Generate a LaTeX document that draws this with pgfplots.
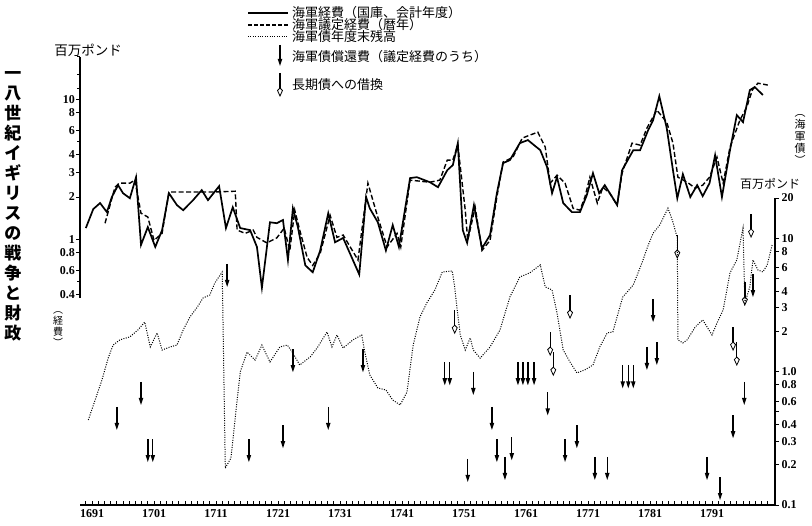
\documentclass[border=0pt]{standalone}
\usepackage{fontspec}
\setmainfont{Liberation Serif}
\newfontfamily\jp{Noto Sans CJK JP}
\usepackage{pgfplots}
\pgfplotsset{compat=1.18}
\usetikzlibrary{arrows.meta}

\pgfdeclareplotmark{sarr}{%
  \pgfsetlinewidth{1.4pt}%
  \pgfpathmoveto{\pgfpoint{0pt}{23pt}}\pgfpathlineto{\pgfpoint{0pt}{5pt}}\pgfusepathqstroke
  \pgfpathmoveto{\pgfpoint{0pt}{0pt}}\pgfpathlineto{\pgfpoint{-2.3pt}{7pt}}\pgfpathlineto{\pgfpoint{2.3pt}{7pt}}\pgfpathclose\pgfusepathqfill}
\pgfdeclareplotmark{harr}{%
  \pgfsetlinewidth{1.3pt}%
  \pgfpathmoveto{\pgfpoint{0pt}{23pt}}\pgfpathlineto{\pgfpoint{0pt}{8pt}}\pgfusepathqstroke
  \pgfsetlinewidth{0.8pt}%
  \pgfpathmoveto{\pgfpoint{0pt}{0pt}}\pgfpathlineto{\pgfpoint{-2.5pt}{5.5pt}}\pgfpathlineto{\pgfpoint{0pt}{8pt}}\pgfpathlineto{\pgfpoint{2.5pt}{5.5pt}}\pgfpathclose\pgfusepathqstroke}

\begin{document}
\begin{tikzpicture}[x=1pt,y=1pt]
\useasboundingbox (0,0) rectangle (812,526);

% ---------- top panel: expenditure ----------
\begin{axis}[
  at={(80pt,228pt)}, anchor=south west, width=695pt, height=241pt, scale only axis,
  xmin=1689.06, xmax=1801.16,
  ymode=log, ymin=0.38, ymax=20,
  axis x line=none, axis y line*=left,
  axis line style={line width=2pt},
  ytick={0.4,0.6,0.8,1,2,3,4,6,8,10},
  yticklabels={0.4,0.6,0.8,1,2,3,4,6,8,10},
  minor ytick={0.5,5,12,15,20},
  tick align=outside,
  major tick length=4pt, minor tick length=3pt,
  every tick/.style={line width=1pt,black},
  yticklabel style={font=\bfseries\fontsize{12}{12}\selectfont, inner sep=1pt},
  /pgf/number format/assume math mode=true,
  clip=false,
]
\addplot[black, line width=1.7pt] coordinates {
(1690.0,1.20) (1691.2,1.64) (1692.3,1.81) (1693.4,1.56) (1694.2,2.00) (1695.2,2.43) (1696.0,2.13) (1697.1,1.96) (1698.1,2.77) (1698.9,0.91) (1700.0,1.22) (1701.2,0.88) (1702.3,1.16) (1703.4,2.13) (1704.7,1.75) (1705.7,1.61) (1707.3,1.90) (1708.7,2.24) (1709.7,1.90) (1711.5,2.39) (1712.6,1.20) (1713.7,1.69) (1714.9,1.20) (1716.5,1.16) (1717.6,0.88) (1718.4,0.45) (1719.7,1.32) (1720.8,1.30) (1721.8,1.37) (1722.6,0.71) (1723.4,1.66) (1724.2,1.22) (1725.4,0.65) (1726.6,0.58) (1727.8,0.83) (1729.1,1.53) (1730.2,0.95) (1731.5,1.02) (1734.1,0.56) (1735.2,2.00) (1735.8,1.66) (1737.1,1.32) (1738.4,0.83) (1739.5,1.26) (1740.5,0.88) (1742.3,2.73) (1743.4,2.77) (1745.5,2.55) (1746.8,2.35) (1748.3,3.11) (1749.2,3.38) (1750.0,4.85) (1750.8,1.16) (1751.5,0.94) (1752.6,1.75) (1753.9,0.86) (1755.2,1.07) (1756.3,2.13) (1757.3,3.49) (1758.4,3.67) (1760.0,4.85) (1761.3,5.10) (1763.3,4.32) (1764.4,3.27) (1765.2,2.13) (1766.0,2.77) (1767.0,1.81) (1768.4,1.56) (1769.7,1.56) (1770.8,2.06) (1771.8,2.96) (1772.8,2.13) (1773.7,2.43) (1774.9,2.00) (1775.7,1.75) (1776.5,3.11) (1778.3,4.32) (1779.4,4.32) (1780.7,6.00) (1781.5,7.08) (1782.5,10.5) (1783.7,6.21) (1784.7,3.11) (1785.4,1.96) (1786.3,2.91) (1787.5,2.00) (1788.6,2.43) (1789.5,2.03) (1790.6,2.51) (1791.5,3.98) (1792.6,2.00) (1793.9,4.32) (1795.0,7.69) (1796.0,6.85) (1797.1,11.6) (1797.9,12.2) (1799.2,10.7)
};
\addplot[black, line width=1.4pt, dash pattern=on 5pt off 2.5pt] coordinates {
(1693.1,1.30) (1694.7,2.35) (1695.4,2.51) (1697.1,2.51) (1697.9,2.64) (1698.9,1.53) (1700.0,1.44) (1701.0,0.98) (1702.3,1.10) (1703.4,2.17) (1705.2,2.17) (1707.3,2.17) (1710.5,2.17) (1714.1,2.20) (1714.4,1.16) (1715.7,1.10) (1717.0,1.16) (1717.6,1.03) (1719.2,0.94) (1720.8,1.02) (1722.0,1.20) (1722.9,0.83) (1723.7,1.61) (1724.5,1.16) (1725.7,0.74) (1726.6,0.65) (1727.8,0.79) (1729.4,1.48) (1730.5,1.03) (1731.5,1.07) (1733.9,0.71) (1735.5,2.51) (1737.0,1.48) (1738.6,0.88) (1740.2,1.10) (1740.8,0.88) (1742.3,2.64) (1745.5,2.55) (1747.1,2.64) (1748.3,3.67) (1749.2,3.67) (1750.0,4.69) (1751.2,1.61) (1751.6,0.98) (1752.8,1.69) (1753.9,0.83) (1755.2,0.98) (1756.3,2.00) (1757.3,3.55) (1758.9,3.85) (1760.4,5.27) (1761.6,5.53) (1762.9,5.81) (1764.1,4.54) (1764.9,2.51) (1766.0,2.86) (1767.3,2.51) (1768.6,1.66) (1769.7,1.61) (1770.5,2.00) (1771.3,2.77) (1772.5,1.81) (1773.4,2.35) (1774.5,2.13) (1775.7,1.75) (1776.5,2.96) (1778.1,4.85) (1779.4,4.69) (1780.5,6.21) (1782.1,8.34) (1783.7,6.85) (1784.7,4.85) (1785.5,2.77) (1787.0,2.55) (1788.3,2.31) (1789.5,2.43) (1790.6,2.77) (1791.8,3.85) (1792.8,2.51) (1793.9,4.54) (1795.5,7.08) (1796.6,8.76) (1797.5,11.6) (1798.4,13.0) (1800.0,12.6)
};
\end{axis}

% ---------- bottom panel: navy debt ----------
\begin{axis}[
  at={(80pt,21pt)}, anchor=south west, width=695pt, height=307pt, scale only axis,
  xmin=1689.06, xmax=1801.16,
  ymode=log, ymin=0.1, ymax=20,
  axis x line*=bottom, axis y line*=right,
  x axis line style={line width=1.4pt},
  y axis line style={line width=2.4pt},
  xtick={1691,1701,1711,1721,1731,1741,1751,1761,1771,1781,1791},
  xticklabels={1691,1701,1711,1721,1731,1741,1751,1761,1771,1781,1791},
  minor xtick={1690,1691,...,1801},
  ytick={0.1,0.2,0.3,0.4,0.6,0.8,1,2,3,4,6,8,10,20},
  yticklabels={0.1,0.2,0.3,0.4,0.6,0.8,1.0,2,3,4,6,8,10,20},
  minor ytick={0.5,5},
  tick align=inside,
  major tick length=4pt, minor tick length=4pt,
  every tick/.style={line width=0.9pt,black},
  y tick style={xshift=4pt},
  xticklabel style={font=\bfseries\fontsize{12}{12}\selectfont, yshift=-1pt},
  yticklabel style={font=\bfseries\fontsize{12}{12}\selectfont, xshift=3pt},
  /pgf/number format/assume math mode=true,
  clip=false,
]
\addplot[black, line width=1pt, dash pattern=on 1pt off 1.4pt] coordinates {
(1690.4,0.434) (1691.5,0.612) (1692.6,0.865) (1693.6,1.26) (1694.4,1.58) (1695.5,1.73) (1697.1,1.82) (1698.4,2.05) (1699.5,2.35) (1700.4,1.53) (1701.5,1.95) (1702.3,1.45) (1703.6,1.53) (1704.7,1.58) (1705.7,2.05) (1706.8,2.57) (1708.0,3.05) (1708.9,3.56) (1710.0,3.75) (1710.8,4.61) (1712.0,5.58) (1712.5,0.189) (1713.4,0.225) (1714.9,0.99) (1716.0,1.40) (1717.3,1.22) (1718.4,1.58) (1719.7,1.18) (1721.3,1.53) (1722.5,1.58) (1723.3,1.40) (1724.5,1.12) (1726.2,1.29) (1727.3,1.50) (1728.9,1.98) (1729.7,1.53) (1730.5,1.88) (1731.5,1.50) (1733.1,1.73) (1734.5,1.88) (1735.0,1.40) (1735.8,0.944) (1737.1,0.754) (1738.4,0.728) (1739.5,0.612) (1740.7,0.562) (1741.8,0.703) (1742.8,1.58) (1743.9,2.57) (1745.0,3.27) (1746.3,4.09) (1747.5,5.58) (1749.1,5.68) (1749.5,4.31) (1749.9,2.90) (1750.4,1.88) (1751.2,1.45) (1752.0,1.79) (1752.5,1.45) (1753.6,1.26) (1755.2,1.53) (1756.8,2.05) (1758.4,3.62) (1760.0,5.12) (1761.6,5.49) (1763.3,6.30) (1764.1,4.31) (1765.2,4.09) (1766.0,2.75) (1767.0,1.45) (1768.1,1.18) (1769.2,0.977) (1770.5,1.03) (1771.8,1.12) (1772.9,1.53) (1774.1,1.95) (1775.0,1.98) (1776.6,3.62) (1778.3,4.46) (1779.7,6.52) (1780.6,8.59) (1781.5,10.9) (1782.6,12.6) (1783.9,16.8) (1784.7,13.2) (1785.4,10.0) (1785.5,1.73) (1786.3,1.64) (1787.0,1.73) (1788.3,2.16) (1789.5,2.44) (1791.0,1.88) (1791.8,2.31) (1792.8,2.90) (1793.9,5.49) (1795.0,6.87) (1796.0,11.9) (1796.3,3.27) (1797.1,4.31) (1797.6,6.87) (1798.4,5.78) (1799.2,5.58) (1799.9,6.30) (1800.7,8.89)
};
% debt redemption (solid arrows)
\addplot[only marks, mark=sarr, black] coordinates {
(1695.0,0.365) (1698.9,0.562) (1700.0,0.21) (1700.8,0.21) (1712.8,4.31) (1716.3,0.21) (1721.8,0.267) (1723.4,0.99) (1729.1,0.365) (1734.7,0.99) (1747.9,0.79) (1748.7,0.79) (1751.6,0.149) (1752.5,0.668) (1755.5,0.365) (1756.3,0.21) (1757.6,0.154) (1758.7,0.217) (1759.7,0.79) (1760.5,0.79) (1761.3,0.79) (1762.3,0.79) (1764.5,0.47) (1767.3,0.21) (1769.2,0.267) (1772.1,0.154) (1774.1,0.154) (1776.6,0.75) (1777.5,0.75) (1778.3,0.75) (1780.5,1.03) (1781.5,2.35) (1782.1,1.12) (1790.2,0.154) (1792.3,0.109) (1794.4,0.317) (1796.2,0.562) (1797.6,3.62)
};
% conversion to long-term debt (hollow arrows)
\addplot[only marks, mark=harr, black] coordinates {
(1749.5,1.94) (1764.9,1.33) (1765.4,0.94) (1768.1,2.52) (1785.4,7.1) (1794.4,1.45) (1795.0,1.12) (1796.3,3.16) (1797.3,10.2)
};
\end{axis}

% ---------- texts ----------
\node[font=\jp\bfseries\fontsize{17}{20}\selectfont, align=center, inner sep=0pt] at (13,320)
  {一\\八\\世\\紀\\イ\\ギ\\リ\\ス\\の\\戦\\争\\と\\財\\政};
\node[font=\jp\fontsize{13.5}{13.5}\selectfont, inner sep=0pt] at (88,476) {百万ポンド};
\node[font=\jp\fontsize{10}{11}\selectfont, align=center, inner sep=0pt] at (58,197) {︵\\経\\費\\︶};
\node[font=\jp\fontsize{11}{12}\selectfont, align=center, inner sep=0pt] at (800,387) {︵\\海\\軍\\債\\︶};
\node[font=\jp\fontsize{12}{12}\selectfont, inner sep=0pt, anchor=west] at (740,342) {百万ポンド};

% legend
\draw[line width=1.2pt] (248,513) -- (288,513);
\draw[line width=1.2pt, dash pattern=on 4pt off 2pt] (248,501) -- (288,501);
\draw[line width=1pt, dash pattern=on 1pt off 1.4pt] (248,489) -- (288,489);
\draw[line width=1.4pt] (280,481) -- (280,466);
\fill (280,460) -- (277.7,467) -- (282.3,467) -- cycle;
\draw[line width=1.3pt] (280,453) -- (280,438);
\draw[line width=0.8pt] (280,430) -- (277.5,435.5) -- (280,438) -- (282.5,435.5) -- cycle;
\begin{scope}[every node/.style={font=\jp\fontsize{13}{13}\selectfont, anchor=west, inner sep=0pt}]
\node at (292,513) {海軍経費（国庫、会計年度）};
\node at (292,501) {海軍議定経費（暦年）};
\node at (292,489) {海軍債年度末残高};
\node at (292,469) {海軍債償還費（議定経費のうち）};
\node at (292,441) {長期債への借換};
\end{scope}
\end{tikzpicture}
\end{document}
